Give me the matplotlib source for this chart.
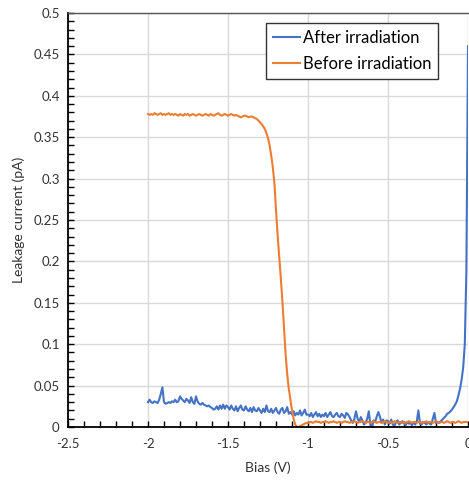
import matplotlib
matplotlib.use("Agg")
import matplotlib.pyplot as plt
from matplotlib.ticker import MultipleLocator, FormatStrFormatter
import numpy as np

plt.rcParams['font.family'] = ['Lato', 'DejaVu Sans']
plt.rcParams['axes.unicode_minus'] = False

# bias sweep, -2 V to 0 V in 0.01 V steps
bias = np.round(np.arange(-2.0, 0.0001, 0.01), 2)

# leakage current (pA)
after_irr = [
    0.030, 0.033, 0.030, 0.029, 0.031, 0.030, 0.029, 0.033, 0.040, 0.048,
    0.030, 0.028, 0.029, 0.030, 0.029, 0.031, 0.030, 0.033, 0.030, 0.031,
    0.037, 0.034, 0.032, 0.030, 0.034, 0.032, 0.029, 0.036, 0.030, 0.028,
    0.037, 0.031, 0.028, 0.027, 0.029, 0.027, 0.026, 0.025, 0.026, 0.024,
    0.023, 0.021, 0.022, 0.025, 0.021, 0.026, 0.022, 0.027, 0.022, 0.026,
    0.024, 0.021, 0.026, 0.022, 0.020, 0.025, 0.019, 0.023, 0.026, 0.021,
    0.020, 0.025, 0.021, 0.019, 0.023, 0.018, 0.024, 0.020, 0.019, 0.023,
    0.020, 0.017, 0.022, 0.018, 0.026, 0.019, 0.018, 0.022, 0.017, 0.020,
    0.023, 0.018, 0.016, 0.021, 0.023, 0.017, 0.019, 0.024, 0.016, 0.018,
    0.015, 0.019, 0.014, 0.017, 0.015, 0.020, 0.014, 0.017, 0.021, 0.015,
    0.015, 0.013, 0.017, 0.012, 0.015, 0.018, 0.013, 0.016, 0.012, 0.015,
    0.013, 0.017, 0.012, 0.015, 0.018, 0.013, 0.012, 0.015, 0.017, 0.013,
    0.012, 0.016, 0.014, 0.011, 0.017, 0.015, 0.012, 0.008, 0.005, 0.010,
    0.019, 0.010, 0.006, 0.012, 0.008, 0.003, 0.005, 0.010, 0.019, 0.002,
    0.000, 0.008, 0.006, 0.013, 0.018, 0.012, 0.005, 0.009, 0.003, 0.008,
    0.007, 0.004, 0.009, 0.003, 0.001, 0.006, 0.008, 0.003, 0.005, 0.007,
    0.005, 0.002, 0.006, 0.004, 0.005, 0.002, 0.006, 0.003, 0.007, 0.020,
    0.004, 0.003, 0.006, 0.005, 0.003, 0.006, 0.004, 0.003, 0.010, 0.017,
    0.005, 0.006, 0.005, 0.007, 0.009, 0.011, 0.013, 0.016, 0.017, 0.019,
    0.021, 0.024, 0.027, 0.031, 0.038, 0.046, 0.057, 0.072, 0.100, 0.190,
    0.460,
]

before_irr = [
    0.378, 0.377, 0.378, 0.377, 0.379, 0.378, 0.377, 0.378, 0.379, 0.377,
    0.378, 0.377, 0.378, 0.379, 0.377, 0.378, 0.377, 0.378, 0.377, 0.376,
    0.378, 0.377, 0.376, 0.378, 0.377, 0.378, 0.376, 0.377, 0.378, 0.377,
    0.376, 0.377, 0.378, 0.377, 0.376, 0.377, 0.378, 0.377, 0.376, 0.378,
    0.377, 0.376, 0.377, 0.378, 0.379, 0.377, 0.376, 0.377, 0.378, 0.377,
    0.376, 0.377, 0.378, 0.377, 0.376, 0.377, 0.376, 0.375, 0.374, 0.375,
    0.376, 0.376, 0.375, 0.374, 0.375, 0.375, 0.374, 0.373, 0.372, 0.370,
    0.368, 0.366, 0.363, 0.360, 0.355, 0.349, 0.340, 0.328, 0.314, 0.295,
    0.262, 0.232, 0.206, 0.180, 0.152, 0.120, 0.088, 0.064, 0.046, 0.033,
    0.020, 0.010, 0.003, 0.000, 0.000, 0.001, 0.002, 0.003, 0.004, 0.005,
    0.005, 0.006, 0.006, 0.005, 0.006, 0.007, 0.006, 0.006, 0.005, 0.006,
    0.006, 0.007, 0.006, 0.005, 0.006, 0.006, 0.007, 0.006, 0.005, 0.006,
    0.006, 0.005, 0.006, 0.007, 0.006, 0.006, 0.005, 0.006, 0.006, 0.007,
    0.006, 0.005, 0.006, 0.006, 0.007, 0.006, 0.005, 0.006, 0.006, 0.005,
    0.006, 0.007, 0.006, 0.005, 0.006, 0.006, 0.005, 0.006, 0.007, 0.006,
    0.005, 0.006, 0.006, 0.005, 0.007, 0.006, 0.005, 0.006, 0.006, 0.005,
    0.006, 0.005, 0.006, 0.007, 0.006, 0.005, 0.006, 0.006, 0.005, 0.006,
    0.006, 0.005, 0.006, 0.006, 0.007, 0.005, 0.006, 0.006, 0.005, 0.006,
    0.007, 0.006, 0.005, 0.006, 0.006, 0.005, 0.006, 0.007, 0.006, 0.005,
    0.006, 0.006, 0.005, 0.006, 0.007, 0.006, 0.005, 0.006, 0.006, 0.006,
    0.006,
]

fig = plt.figure(figsize=(4.69, 4.82), dpi=100)
ax = fig.add_axes([68 / 469, 1 - 427 / 482, 400 / 469, 414 / 482])

ax.plot(bias, after_irr, color="#4472C4", lw=1.5, label="After irradiation")
ax.plot(bias, before_irr, color="#ED7D31", lw=1.5, label="Before irradiation")

ax.set_xlim(-2.5, 0)
ax.set_ylim(0, 0.5)
ax.xaxis.set_major_locator(MultipleLocator(0.5))
ax.xaxis.set_minor_locator(MultipleLocator(0.1))
ax.yaxis.set_major_locator(MultipleLocator(0.05))
ax.yaxis.set_minor_locator(MultipleLocator(0.01))
ax.xaxis.set_major_formatter(FormatStrFormatter('%g'))
ax.yaxis.set_major_formatter(FormatStrFormatter('%g'))

ax.grid(True, which='major', color='#d9d9d9', lw=1.0)
ax.set_axisbelow(True)
ax.tick_params(which='both', direction='in', length=4, width=1,
               labelsize=9.5, colors='black', labelcolor='#333333')
ax.tick_params(axis='x', pad=8)
ax.tick_params(axis='y', pad=6)

for side in ['left', 'bottom']:
    ax.spines[side].set_color('black')
    ax.spines[side].set_linewidth(1.3)
ax.spines['top'].set_color('#555555')
ax.spines['top'].set_linewidth(1.0)
ax.spines['right'].set_visible(False)

ax.set_xlabel('Bias (V)', fontsize=10, color='#333333', labelpad=8)
ax.set_ylabel('Leakage current (pA)', fontsize=10, color='#333333', labelpad=6)

leg = ax.legend(loc='upper right', bbox_to_anchor=(0.925, 0.975), fontsize=12,
                fancybox=False, framealpha=1, edgecolor='#333333',
                handlelength=1.6, handletextpad=0.2, borderpad=0.4,
                labelspacing=0.6, borderaxespad=0)
leg.get_frame().set_linewidth(1.0)

fig.savefig('out.png', dpi=100)
